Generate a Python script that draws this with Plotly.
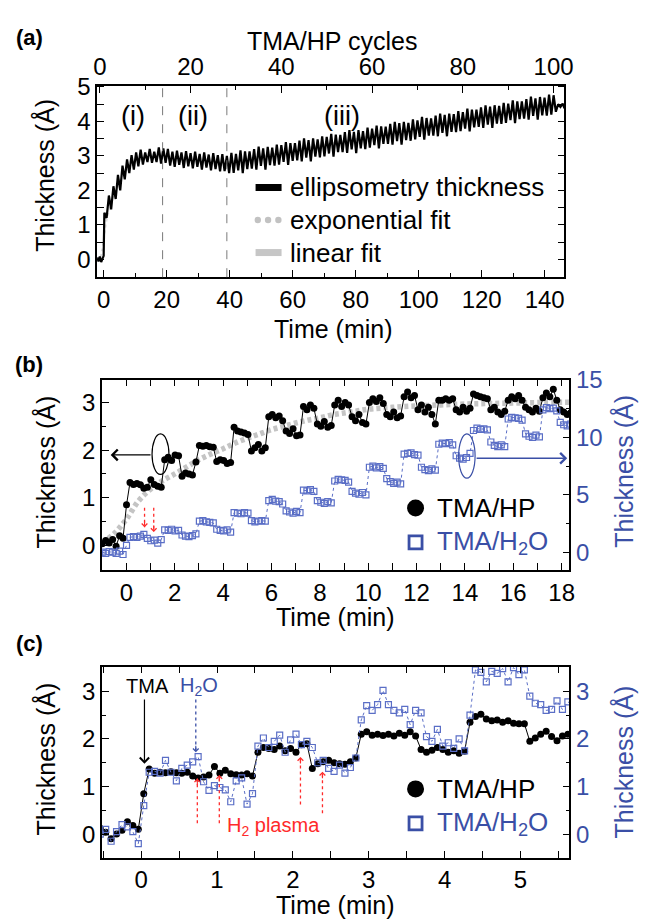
import plotly.graph_objects as go

FONT = "Liberation Sans, Arial, Helvetica, sans-serif"
BLUE = "#3a4fa6"
BLUE_M = "#5a6ec6"
RED = "#ff2a2a"
W, H = 646, 920

# ---------------- Panel (a): ellipsometry thickness vs TMA/HP cycle ----------------
a_pre_cycles = [-0.6, -0.3, 0.0, 0.3, 0.6, 0.85]
a_pre_vals = [0.05, -0.06, 0.08, -0.08, 0.02, 0.10]
# value right after TMA (high) and after H2 plasma (low) for cycles 1..100
a_high = [1.35, 1.85, 2.12, 2.45, 2.72, 2.90, 3.02, 3.10, 3.18, 3.10, 3.20, 3.12, 3.25, 3.22,
          3.20, 3.12, 3.15, 3.10, 3.14, 3.08, 3.12, 3.06, 3.10, 3.04, 3.08, 3.02, 3.05, 3.00,
          3.09, 3.06, 3.16, 3.13, 3.13, 3.20, 3.27, 3.22, 3.26, 3.24,
          3.33, 3.31, 3.40, 3.37, 3.37, 3.44, 3.51, 3.46, 3.51, 3.48,
          3.57, 3.55, 3.64, 3.62, 3.61, 3.69, 3.75, 3.70, 3.75, 3.72,
          3.82, 3.79, 3.88, 3.86, 3.85, 3.93, 3.99, 3.95, 3.99, 3.96,
          4.06, 4.03, 4.13, 4.10, 4.09, 4.17, 4.23, 4.19, 4.23, 4.21,
          4.30, 4.27, 4.37, 4.34, 4.34, 4.41, 4.47, 4.43, 4.47, 4.45,
          4.54, 4.52, 4.61, 4.58, 4.58, 4.65, 4.72, 4.67, 4.71, 4.69,
          4.78, 4.76]
a_low = [1.20, 1.45, 1.75, 2.00, 2.32, 2.50, 2.60, 2.70, 2.75, 2.82, 2.80, 2.82, 2.78, 2.80,
         2.72, 2.68, 2.74, 2.65, 2.70, 2.64, 2.68, 2.60, 2.66, 2.58, 2.62, 2.55, 2.56, 2.50,
         2.51, 2.58, 2.50, 2.62, 2.63, 2.60, 2.71, 2.60, 2.73, 2.72,
         2.75, 2.83, 2.74, 2.86, 2.87, 2.84, 2.95, 2.84, 2.98, 2.96,
         2.99, 3.07, 2.98, 3.11, 3.11, 3.09, 3.19, 3.08, 3.22, 3.20,
         3.24, 3.31, 3.22, 3.35, 3.35, 3.33, 3.43, 3.33, 3.46, 3.44,
         3.48, 3.55, 3.47, 3.59, 3.59, 3.57, 3.67, 3.57, 3.70, 3.69,
         3.72, 3.79, 3.71, 3.83, 3.84, 3.81, 3.91, 3.81, 3.94, 3.93,
         3.96, 4.04, 3.95, 4.07, 4.08, 4.05, 4.16, 4.05, 4.18, 4.17,
         4.20, 4.28]
a_tail_cycles = [101.0, 101.5, 102.0, 102.4]
a_tail_vals = [4.50, 4.42, 4.52, 4.38]

# exponential fit (time in min) and linear fit
fit_exp_t = [-1.0, -0.5, 0.0, 0.5, 1.0, 1.5, 2.0, 2.5, 3.0, 3.5, 4.0, 4.5, 5.0, 5.5, 6.0, 6.5,
             7.0, 7.5, 8.0, 8.5, 9.0, 9.5, 10.0, 11.0, 12.0, 13.0, 14.0, 15.0, 16.0, 17.0, 18.4]
fit_exp_y = [0.06, 0.25, 0.55, 0.93, 1.18, 1.36, 1.50, 1.65, 1.80, 1.92, 2.03, 2.15, 2.25, 2.34,
             2.43, 2.50, 2.57, 2.63, 2.68, 2.74, 2.78, 2.82, 2.86, 2.90, 2.93, 2.95, 2.97, 2.98,
             2.99, 3.00, 3.01]
fit_lin_t = [39.5, 143.5]
fit_lin_y = [2.80, 4.55]

region_bounds = [18.7, 39.1]
region_labels = ["(i)", "(ii)", "(iii)"]
region_label_t = [9.3, 28.5, 75.7]

legend_a_names = ["ellipsometry thickness", "exponential fit", "linear fit"]

# ---------------- Panel (b): first 18 min ----------------
b_t0, b_dt = -1.0, 0.1435   # sampling start / interval (min)
b_hp = [0.03, 0.10, 0.05, 0.12, -0.02, 0.20, 0.15,
        0.85,
        1.32, 1.28, 1.30, 1.27, 1.20, 1.22, 1.38, 1.28, 1.24, 1.22,
        1.80, 1.85, 1.78, 1.90, 1.88, 1.45, 1.52, 1.50, 1.48, 1.75,
        2.10, 2.08, 2.10, 2.07, 2.06, 1.76, 1.80, 1.78, 1.72, 1.74,
        2.48, 2.40, 2.38, 2.36, 2.33, 1.98, 2.05, 2.12, 1.98, 2.05,
        2.70, 2.75, 2.68, 2.72, 2.62, 2.40, 2.35, 2.45, 2.30, 2.32,
        2.92, 2.85, 2.95, 2.88, 2.55, 2.50, 2.60, 2.48, 2.52,
        2.95, 3.05, 2.92, 3.00, 2.95, 2.70, 2.62, 2.75, 2.58, 2.55,
        3.00, 3.08, 3.02, 3.10, 2.98, 2.75, 2.70, 2.80, 2.68, 2.72,
        3.12, 3.22, 3.10, 3.15, 2.85, 2.95, 2.80, 2.90, 2.75, 2.55,
        3.05, 3.05, 3.08, 3.05, 3.08, 2.85, 2.80, 2.90, 2.82, 2.88,
        3.18, 3.15, 3.12, 3.10, 3.08, 2.85, 2.90, 2.80, 2.75, 2.82,
        3.05, 3.12, 3.08, 3.15, 3.05, 2.90, 2.85, 2.80, 2.88, 2.82,
        3.10, 3.20, 3.12, 3.28, 3.05, 2.85, 2.80, 2.75, 2.78]
b_h2o = [0.00, -0.10, 0.05, 0.00, -0.10, 0.10, -0.20,
         0.60,
         1.30, 1.35, 1.30, 1.40, 1.55, 1.20, 1.00, 1.05, 0.80, 1.10,
         1.95, 1.90, 2.00, 1.85, 1.90, 1.50, 1.40, 1.35, 1.45, 1.60,
         2.70, 2.75, 2.65, 2.60, 2.55, 2.00, 1.90, 1.85, 1.95, 1.75,
         3.45, 3.40, 3.35, 3.45, 3.40, 2.75, 2.65, 2.70, 2.75, 2.70,
         4.50, 4.60, 4.45, 4.40, 4.20, 3.60, 3.50, 3.40, 3.55, 3.45,
         5.40, 5.35, 5.45, 5.30, 4.50, 4.35, 4.25, 4.40, 4.30,
         6.20, 6.35, 6.30, 6.25, 6.10, 5.30, 5.15, 5.05, 5.20, 5.00,
         7.40, 7.50, 7.35, 7.45, 7.30, 6.40, 6.15, 6.00, 6.10, 5.95,
         8.55, 8.60, 8.65, 8.50, 8.45, 7.40, 7.20, 7.10, 7.25, 7.15,
         9.40, 9.50, 9.45, 9.55, 9.35, 8.40, 8.20, 8.10, 8.25, 8.60,
         10.60, 10.80, 10.70, 10.75, 10.65, 9.60, 9.30, 9.20, 9.35, 9.20,
         11.60, 11.75, 11.70, 11.65, 11.50, 10.30, 10.10, 10.00, 10.20, 10.05,
         12.40, 12.60, 12.50, 12.55, 12.30, 11.30, 11.10, 11.00, 11.15]
b_time = [b_t0 + b_dt * i for i in range(len(b_hp))]

# ---------------- Panel (c): first 5.7 min ----------------
c_t0, c_dt = -0.54, 0.0717
c_hp = [0.12, 0.04, -0.10, 0.00, 0.08, 0.26, 0.18, 0.10,
        0.85, 1.37,
        1.28, 1.30, 1.29, 1.31, 1.29, 1.28, 1.30,
        1.22, 1.18, 1.20, 1.24, 1.42, 1.28, 1.34, 1.27, 1.25, 1.24, 1.27, 1.22,
        1.72, 1.82, 1.80, 1.78, 1.85, 1.75, 1.80, 1.72, 1.88, 1.90,
        1.38, 1.48, 1.52, 1.55, 1.50, 1.48, 1.47, 1.52, 1.60,
        2.10, 2.15, 2.08, 2.10, 2.07, 2.10, 2.06, 2.12, 2.08, 2.15, 2.06,
        1.78, 1.72, 1.76, 1.82, 1.78, 1.72, 1.75, 1.70, 1.74,
        2.35, 2.47, 2.52, 2.42, 2.38, 2.40, 2.35, 2.38, 2.33, 2.32, 2.32,
        1.95, 2.02, 2.10, 2.16, 2.05, 1.96, 2.06, 2.10, 2.08]
c_h2o = [0.00, 0.10, -0.15, 0.05, 0.20, 0.15, 0.05, -0.20,
         0.60, 1.30,
         1.32, 1.28, 1.55, 1.30, 1.12, 1.38, 1.45, 1.52, 1.63,
         1.10, 0.92, 1.02, 0.98, 0.93, 0.68, 1.12, 1.18, 0.63, 0.85,
         1.85, 2.02, 1.82, 1.95, 2.08, 1.72, 1.98, 2.10, 1.88, 1.95,
         1.82, 1.50, 1.55, 1.38, 1.32, 1.45, 1.28, 1.40, 1.60, 2.40,
         2.70, 2.60, 2.72, 3.02, 2.72, 2.60, 2.55, 2.62, 2.30, 2.60, 2.55,
         2.05, 1.95, 2.20, 1.85, 1.92, 1.80, 2.00, 1.75,
         2.50, 3.45, 3.40, 3.20, 3.42, 3.38, 3.48, 3.20, 3.50, 3.35, 3.45,
         2.90, 2.75, 2.72, 2.60, 2.62, 2.80, 2.62, 2.78, 2.70]
c_time = [c_t0 + c_dt * i for i in range(len(c_hp))]

series_names = ["TMA/HP", "TMA/H<sub>2</sub>O"]

# ======================================================================
fig = go.Figure()

# panel (a) trace built from per-cycle values
a_x = list(a_pre_cycles)
a_y = list(a_pre_vals)
for k, (hv, lv) in enumerate(zip(a_high, a_low)):
    a_x += [k + 1, k + 1.5]
    a_y += [hv, lv]
a_x += a_tail_cycles
a_y += a_tail_vals

fig.add_trace(go.Scatter(x=a_x, y=a_y, xaxis="x2", yaxis="y", mode="lines",
                         line=dict(color="black", width=2.2), showlegend=False))
fig.add_trace(go.Scatter(x=fit_exp_t, y=fit_exp_y, xaxis="x", yaxis="y", mode="lines",
                         line=dict(color="#dcdcdc", width=2, dash="dot", shape="spline"),
                         showlegend=False))
fig.add_trace(go.Scatter(x=fit_lin_t, y=fit_lin_y, xaxis="x", yaxis="y", mode="lines",
                         line=dict(color="#d8d8d8", width=2.5), showlegend=False))

# panel (b)
fig.add_trace(go.Scatter(x=fit_exp_t, y=fit_exp_y, xaxis="x3", yaxis="y3", mode="lines",
                         line=dict(color="#c4c4c4", width=5.5, dash="4px,3px", shape="spline"),
                         showlegend=False))
fig.add_trace(go.Scatter(x=b_time, y=b_h2o, xaxis="x3", yaxis="y4", mode="lines+markers",
                         line=dict(color=BLUE_M, width=1, dash="dot"),
                         marker=dict(symbol="square-open", size=6, color=BLUE_M, line=dict(width=1.2)),
                         showlegend=False))
fig.add_trace(go.Scatter(x=b_time, y=b_hp, xaxis="x3", yaxis="y3", mode="lines+markers",
                         line=dict(color="black", width=1),
                         marker=dict(symbol="circle", size=7, color="black"),
                         showlegend=False))

# panel (c)
fig.add_trace(go.Scatter(x=c_time, y=c_h2o, xaxis="x5", yaxis="y6", mode="lines+markers",
                         line=dict(color=BLUE_M, width=1, dash="dot"),
                         marker=dict(symbol="square-open", size=6, color=BLUE_M, line=dict(width=1.2)),
                         showlegend=False))
fig.add_trace(go.Scatter(x=c_time, y=c_hp, xaxis="x5", yaxis="y5", mode="lines+markers",
                         line=dict(color="black", width=1),
                         marker=dict(symbol="circle", size=7, color="black"),
                         showlegend=False))


def px_x(p):
    return p / W


def px_y(p):
    return 1 - p / H


TICKF = dict(family=FONT, size=24, color="black")
TICKB = dict(family=FONT, size=24, color=BLUE)


def ax(**kw):
    d = dict(showline=True, linecolor="black", linewidth=1.5, ticks="inside", ticklen=7,
             tickwidth=1.3, tickcolor="black", showgrid=False, zeroline=False,
             tickfont=TICKF)
    d.update(kw)
    return d


def minor(dt):
    return dict(ticks="inside", ticklen=4, tickwidth=1.1, tickcolor="black", dtick=dt, showgrid=False)


dom_a = [px_y(268), px_y(74)]
dom_b = [px_y(565), px_y(372)]
dom_c = [px_y(857), px_y(663)]
xd_a = [px_x(95), px_x(572)]
xd_bc = [px_x(100), px_x(577)]

fig.update_layout(
    width=W, height=H, margin=dict(l=0, r=0, t=0, b=0),
    paper_bgcolor="white", plot_bgcolor="white", showlegend=False,
    font=dict(family=FONT, size=25, color="black"),
    xaxis=ax(domain=xd_a, anchor="y", range=[-2.1, 146.3], tick0=0, dtick=20, minor=minor(10)),
    xaxis2=ax(overlaying="x", side="top", anchor="y", range=[-0.6, 102.4], tick0=0, dtick=20,
              minor=minor(10)),
    yaxis=ax(domain=dom_a, anchor="x", range=[-0.52, 5.03], tick0=0, dtick=1, minor=minor(0.5),
             mirror="allticks"),
    xaxis3=ax(domain=xd_bc, anchor="y3", range=[-1.01, 18.32], tick0=0, dtick=2, minor=minor(1),
              mirror="allticks"),
    yaxis3=ax(domain=dom_b, anchor="x3", range=[-0.52, 3.48], tick0=0, dtick=1, minor=minor(0.5)),
    yaxis4=ax(overlaying="y3", side="right", anchor="x3", range=[-1.55, 15.02], tick0=0, dtick=5,
              minor=minor(2.5), tickfont=TICKB),
    xaxis5=ax(domain=xd_bc, anchor="y5", range=[-0.517, 5.646], tick0=0, dtick=1, minor=minor(0.5),
              mirror="allticks"),
    yaxis5=ax(domain=dom_c, anchor="x5", range=[-0.5, 3.52], tick0=0, dtick=1, minor=minor(0.5)),
    yaxis6=ax(overlaying="y5", side="right", anchor="x5", range=[-0.5, 3.52], tick0=0, dtick=1,
              minor=minor(0.5), tickfont=TICKB),
)

ann = []
shapes = []


def ptext(text, x, y, size=25, color="black", angle=0, bold=False, xanchor="center"):
    if bold:
        text = "<b>%s</b>" % text
    ann.append(dict(text=text, x=px_x(x), y=px_y(y), xref="paper", yref="paper", showarrow=False,
                    xanchor=xanchor, yanchor="middle", textangle=angle,
                    font=dict(family=FONT, size=size, color=color)))


# panel labels & axis titles
ptext("(a)", 26, 25, size=22, bold=True)
ptext("(b)", 26, 357, size=22, bold=True)
ptext("(c)", 26, 640, size=22, bold=True)
ptext("TMA/HP cycles", 335, 28)
ptext("Time (min)", 336, 321)
ptext("Time (min)", 338, 613)
ptext("Time (min)", 338, 905)
ptext("Thickness (Å)", 42, 165, angle=-90)
ptext("Thickness (Å)", 42, 466, angle=-90)
ptext("Thickness (Å)", 42, 757, angle=-90)
ptext("Thickness (Å)", 632, 465, angle=-90, color=BLUE)
ptext("Thickness (Å)", 632, 760, angle=-90, color=BLUE)


def pshape(kind, cx, cy, hw, hh, fill=None, line_color=None, lw=0):
    shapes.append(dict(type=kind, xref="paper", yref="paper", xsizemode="pixel", ysizemode="pixel",
                       xanchor=px_x(cx), yanchor=px_y(cy), x0=-hw, x1=hw, y0=-hh, y1=hh,
                       fillcolor=fill if fill else "rgba(0,0,0,0)",
                       line=dict(color=line_color if line_color else "rgba(0,0,0,0)", width=lw)))


# legend (a) drawn by hand
legend_a_rows = [177, 210, 243]
pshape("rect", 270, legend_a_rows[0], 13, 3.5, fill="black")
for dx in (259, 269.5, 280):
    pshape("circle", dx, legend_a_rows[1], 3.2, 3.2, fill="#c2c2c2")
pshape("rect", 270, legend_a_rows[2], 13, 3.5, fill="#c6c6c6")
for name, yy in zip(legend_a_names, legend_a_rows):
    ptext(name, 290, yy, size=26, xanchor="left")

# legends (b) and (c) drawn by hand
for rows in ([502, 537], [787, 822]):
    pshape("circle", 420, rows[0], 8.5, 8.5, fill="black")
    pshape("rect", 420, rows[1], 6.5, 6.5, line_color=BLUE, lw=2.8)
    ptext(series_names[0], 440, rows[0], size=26, xanchor="left")
    ptext(series_names[1], 440, rows[1], size=26, xanchor="left", color=BLUE)


def dtext(text, x, y, xr, yr, size=25, color="black"):
    ann.append(dict(text=text, x=x, y=y, xref=xr, yref=yr, showarrow=False,
                    font=dict(family=FONT, size=size, color=color)))


for lab, tt in zip(region_labels, region_label_t):
    dtext(lab, tt, 4.17, "x", "y", size=27)
for xb in region_bounds:
    shapes.append(dict(type="line", xref="x", yref="y domain", x0=xb, x1=xb, y0=0, y1=1,
                       line=dict(color="#7a7a7a", width=1, dash="dash")))


def arrow(x_tip, y_tip, x_tail, y_tail, xr, yr, color, width=1.3, size=1.6):
    ann.append(dict(text="", x=x_tip, y=y_tip, ax=x_tail, ay=y_tail, xref=xr, yref=yr,
                    axref=xr, ayref=yr, showarrow=True, arrowhead=4, arrowsize=size,
                    arrowwidth=width, arrowcolor=color))


def dotted_arrow(x, y_tail, y_tip, xr, yr, color):
    shapes.append(dict(type="line", xref=xr, yref=yr, x0=x, x1=x, y0=y_tail, y1=y_tip,
                       line=dict(color=color, width=1.3, dash="dot")))
    ann.append(dict(text="", x=x, y=y_tip, xref=xr, yref=yr, showarrow=True, arrowhead=4,
                    arrowsize=1.0, arrowwidth=1.1, arrowcolor=color, ax=0,
                    ay=(8 if y_tip > y_tail else -8)))


# panel (b) ellipses & arrows
shapes.append(dict(type="circle", xref="x3", yref="y3", x0=1.06, x1=1.76, y0=1.49, y1=2.34,
                   line=dict(color="black", width=1.2)))
shapes.append(dict(type="circle", xref="x3", yref="y3", x0=13.74, x1=14.42, y0=1.41, y1=2.34,
                   line=dict(color=BLUE, width=1.2)))
arrow(-0.65, 1.9, 1.06, 1.9, "x3", "y3", "black")
arrow(18.23, 1.83, 14.42, 1.83, "x3", "y3", BLUE)
dotted_arrow(0.75, 0.79, 0.38, "x3", "y3", RED)
dotted_arrow(1.13, 0.79, 0.28, "x3", "y3", RED)

# panel (c) annotations
dtext("TMA", 0.08, 3.11, "x5", "y5", size=20)
dtext("H<sub>2</sub>O", 0.76, 3.11, "x5", "y5", size=20, color=BLUE)
arrow(0.043, 1.48, 0.043, 2.86, "x5", "y5", "black", width=1.2, size=1.5)
dotted_arrow(0.72, 2.83, 1.72, "x5", "y5", BLUE)
dotted_arrow(0.74, 0.23, 1.17, "x5", "y5", RED)
dotted_arrow(1.03, 0.23, 1.24, "x5", "y5", RED)
dotted_arrow(2.10, 0.62, 1.62, "x5", "y5", RED)
dotted_arrow(2.39, 0.44, 1.31, "x5", "y5", RED)
dtext("H<sub>2</sub> plasma", 1.745, 0.17, "x5", "y5", size=20, color=RED)

fig.update_layout(annotations=ann, shapes=shapes)
fig.write_html("out.html", config={"displayModeBar": False},
               post_script="document.body.style.margin='0px';document.body.style.overflow='hidden';")
